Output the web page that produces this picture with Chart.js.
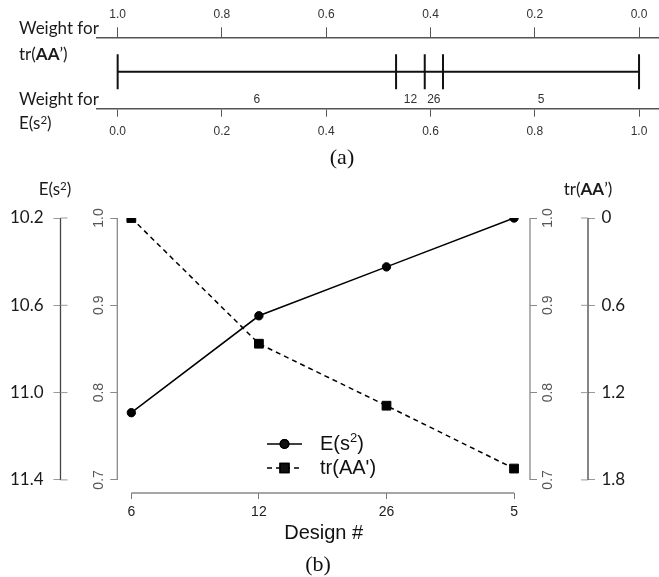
<!DOCTYPE html>
<html>
<head>
<meta charset="utf-8">
<script src="https://cdn.jsdelivr.net/npm/chart.js@4.4.1/dist/chart.umd.min.js"></script>
<style>
  html, body { margin: 0; padding: 0; background: #fff; }
  #wrap { position: relative; width: 659px; height: 577px; overflow: hidden; }
  canvas { position: absolute; left: 0; top: 0; }
  .lbl { position: absolute; white-space: nowrap; font-family: Lato, "Open Sans", sans-serif;
         font-size: 17px; color: #1a1a1a; line-height: 1; }
  .mid { transform: translate(-50%, -50%); }
  .lft { transform: translateY(-50%); }
  .sup { font-size: 0.68em; position: relative; top: -0.45em; }
  .cap { position: absolute; font-family: "Liberation Serif", "Times New Roman", serif;
         font-size: 22px; color: #111; line-height: 1; transform: translate(-50%, -50%); }
</style>
</head>
<body>
<div id="wrap">
  <canvas id="chartA" width="659" height="145"></canvas>
  <canvas id="chartB" width="659" height="577"></canvas>

  <div class="lbl lft" style="left:19px; top:27px;">Weight for</div>
  <div class="lbl lft" style="left:19px; top:53px;">tr(<b>AA</b>’)</div>
  <div class="lbl lft" style="left:19px; top:98px;">Weight for</div>
  <div class="lbl lft" style="left:19px; top:122px;">E(s<span class="sup">2</span>)</div>
  <div class="cap" style="left:342px; top:157px;">(a)</div>

  <div class="lbl mid" style="left:55px; top:188px;">E(s<span class="sup">2</span>)</div>
  <div class="lbl mid" style="left:588px; top:188px;">tr(<b>AA</b>’)</div>
  <div class="cap" style="left:318px; top:564px;">(b)</div>
</div>

<script>
// ---- Panel (a): ranges of the weight on E(s²) over which each design is optimal ----
const weightBreaks = [0, 0.534, 0.589, 0.624, 1.0];
const segmentDesigns = ['6', '12', '26', '5'];
const weightTicksE = [0, 0.2, 0.4, 0.6, 0.8, 1.0];
const weightTicksTr = [1.0, 0.8, 0.6, 0.4, 0.2, 0.0];

// ---- Panel (b): relative efficiencies of the chosen designs ----
const designs = ['6', '12', '26', '5'];
const effES2 = [0.777, 0.888, 0.944, 1.0];
const effTr = [1.0, 0.856, 0.785, 0.713];
const effTicks = [1.0, 0.9, 0.8, 0.7];
const es2Ticks = [10.2, 10.6, 11.0, 11.4];
const trTicks = [0, 0.6, 1.2, 1.8];

const SANS = '"Liberation Sans", Arial, sans-serif';
const HUMAN = 'Lato, "Open Sans", sans-serif';

const fixedTicks = (vals) => (s) => { s.ticks = vals.map(v => ({ value: v })); };

// ---------------- Panel (a) ----------------
const xMinA = -0.0402, xMaxA = 1.0383;
const segY = 0.515;

const segmentLabels = {
  id: 'segmentLabels',
  afterDatasetsDraw(chart) {
    const { ctx, scales: { x, y } } = chart;
    ctx.save();
    ctx.font = '12px ' + SANS;
    ctx.fillStyle = '#333';
    ctx.textAlign = 'center';
    ctx.textBaseline = 'middle';
    const yPix = y.getPixelForValue(segY) + 27.5;
    segmentDesigns.forEach((d, i) => {
      const mid = (weightBreaks[i] + weightBreaks[i + 1]) / 2;
      ctx.fillText(d, x.getPixelForValue(mid), yPix);
    });
    ctx.restore();
  }
};

const axisA = (extra) => Object.assign({
  type: 'linear',
  grid: { drawOnChartArea: false, color: '#555', lineWidth: 1 },
  border: { display: true, color: '#555', width: 1.5 },
  ticks: { font: { family: SANS, size: 12 }, color: '#333', autoSkip: false, maxRotation: 0,
           callback: (v) => Number(v).toFixed(1) }
}, extra);

new Chart(document.getElementById('chartA'), {
  type: 'scatter',
  data: {
    datasets: [
      {
        data: [{ x: weightBreaks[0], y: segY }, { x: weightBreaks[weightBreaks.length - 1], y: segY }],
        showLine: true, borderColor: '#111', borderWidth: 2, pointRadius: 0
      },
      {
        data: weightBreaks.map(w => ({ x: w, y: segY })),
        showLine: false, pointStyle: 'line', rotation: 90, pointRadius: 17.5,
        pointBorderWidth: 2, pointBorderColor: '#111', pointBackgroundColor: '#111'
      }
    ]
  },
  options: {
    responsive: false, animation: false, events: [],
    layout: { autoPadding: false, padding: { left: 96.7, right: 0, top: 0, bottom: 0 } },
    plugins: { legend: { display: false }, tooltip: { enabled: false } },
    scales: {
      x: axisA({
        position: 'bottom', min: xMinA, max: xMaxA,
        afterBuildTicks: fixedTicks(weightTicksE),
        afterFit: (s) => { s.height = 145 - 108.3; },
        grid: { drawOnChartArea: false, color: '#555', tickLength: 8.4 },
        ticks: { font: { family: SANS, size: 12 }, color: '#333', autoSkip: false, maxRotation: 0,
                 padding: 8.2, callback: (v) => Number(v).toFixed(1) }
      }),
      xTop: axisA({
        position: 'top', reverse: true, min: 1 - xMaxA, max: 1 - xMinA,
        afterBuildTicks: fixedTicks(weightTicksTr),
        afterFit: (s) => { s.height = 37.3; },
        grid: { drawOnChartArea: false, color: '#555', tickLength: 10 },
        ticks: { font: { family: SANS, size: 12 }, color: '#333', autoSkip: false, maxRotation: 0,
                 padding: 5, callback: (v) => Number(v).toFixed(1) }
      }),
      y: { type: 'linear', display: false, min: 0, max: 1 }
    }
  },
  plugins: [segmentLabels]
});

// ---------------- Panel (b) ----------------
const yMin = 0.685;

// R-style axis lines that run only between the first and last tick
const axisLines = {
  id: 'axisLines',
  beforeDatasetsDraw(chart) {
    const { ctx, scales } = chart;
    ctx.save();
    const vLine = (s, ticks, color, stub) => {
      const xp = s.position === 'left' ? s.right : s.left;
      const y0 = s.getPixelForValue(ticks[0]);
      const y1 = s.getPixelForValue(ticks[ticks.length - 1]);
      ctx.strokeStyle = color;
      ctx.lineWidth = 1.3;
      ctx.beginPath();
      ctx.moveTo(xp, y0); ctx.lineTo(xp, y1);
      ctx.stroke();
      if (stub) {
        ctx.strokeStyle = '#999';
        ctx.lineWidth = 1;
        const dir = s.position === 'left' ? 1 : -1;
        ticks.forEach(t => {
          const yp = s.getPixelForValue(t);
          ctx.beginPath();
          ctx.moveTo(xp, yp); ctx.lineTo(xp + dir * stub, yp);
          ctx.stroke();
        });
      }
    };
    vLine(scales.y, effTicks, '#888', 0);
    vLine(scales.y2, effTicks, '#888', 0);
    vLine(scales.yE, es2Ticks, '#444', 7);
    vLine(scales.yT, trTicks, '#444', 7);

    const x = scales.x;
    ctx.strokeStyle = '#888';
    ctx.lineWidth = 1.3;
    ctx.beginPath();
    ctx.moveTo(x.getPixelForValue(0), x.top);
    ctx.lineTo(x.getPixelForValue(designs.length - 1), x.top);
    ctx.stroke();
    ctx.restore();
  }
};

// legend: line with marker, then label with superscript where needed
const lineLegend = {
  id: 'lineLegend',
  afterDatasetsDraw(chart) {
    const { ctx } = chart;
    const x0 = 267, x1 = 302, tx = 320;
    const rows = [444, 468];
    ctx.save();
    chart.data.datasets.forEach((ds, i) => {
      const yy = rows[i];
      ctx.strokeStyle = ds.borderColor;
      ctx.lineWidth = ds.borderWidth;
      ctx.setLineDash(ds.borderDash || []);
      ctx.beginPath();
      ctx.moveTo(x0, yy); ctx.lineTo(x1, yy);
      ctx.stroke();
      ctx.setLineDash([]);
      Chart.helpers.drawPoint(ctx, {
        pointStyle: ds.pointStyle, radius: ds.pointRadius, borderWidth: 1, rotation: 0
      }, (x0 + x1) / 2, yy);
      ctx.fillStyle = '#111';
      ctx.fill();
      ctx.stroke();

      ctx.fillStyle = '#111';
      ctx.textBaseline = 'middle';
      ctx.textAlign = 'left';
      let cx = tx;
      ds.legendParts.forEach(p => {
        ctx.font = (p.sup ? '13px ' : '20px ') + SANS;
        ctx.fillText(p.t, cx, yy + (p.sup ? -6 : 0));
        cx += ctx.measureText(p.t).width;
      });
    });
    ctx.restore();
  }
};

const innerAxis = (pos, extra) => Object.assign({
  type: 'linear', position: pos, weight: 0, min: yMin, max: 1,
  afterBuildTicks: fixedTicks(effTicks),
  border: { display: false },
  grid: { drawOnChartArea: false, color: '#888', tickLength: 7 },
  ticks: { font: { family: SANS, size: 14 }, color: '#555', minRotation: 90, maxRotation: 90,
           crossAlign: 'center', padding: 1, autoSkip: false,
           callback: (v) => Number(v).toFixed(1) }
}, extra);

const outerAxis = (pos, extra) => Object.assign({
  type: 'linear', position: pos, weight: 1, reverse: true,
  border: { display: false },
  grid: { drawOnChartArea: false, color: '#999', tickLength: 7 },
  ticks: { font: { family: HUMAN, size: 17 }, color: '#1a1a1a', autoSkip: false, maxRotation: 0 }
}, extra);

new Chart(document.getElementById('chartB'), {
  type: 'line',
  data: {
    datasets: [
      {
        label: 'E(s²)', legendParts: [{ t: 'E(s' }, { t: '2', sup: true }, { t: ')' }],
        data: designs.map((d, i) => ({ x: i, y: effES2[i] })),
        borderColor: '#000', borderWidth: 1.5,
        pointStyle: 'circle', pointRadius: 4.2,
        pointBackgroundColor: '#000', pointBorderColor: '#000', pointBorderWidth: 1,
        yAxisID: 'y', xAxisID: 'x'
      },
      {
        label: "tr(AA')", legendParts: [{ t: "tr(AA')" }],
        data: designs.map((d, i) => ({ x: i, y: effTr[i] })),
        borderColor: '#000', borderWidth: 1.5, borderDash: [5, 4],
        pointStyle: 'rect', pointRadius: 6.2,
        pointBackgroundColor: '#000', pointBorderColor: '#000', pointBorderWidth: 1,
        yAxisID: 'y', xAxisID: 'x'
      }
    ]
  },
  options: {
    responsive: false, animation: false, events: [],
    layout: { autoPadding: false, padding: { top: 218, left: 0, right: 0, bottom: 0 } },
    plugins: { legend: { display: false }, tooltip: { enabled: false } },
    scales: {
      x: {
        type: 'linear', position: 'bottom', min: -0.11, max: 3.125,
        afterBuildTicks: fixedTicks(designs.map((d, i) => i)),
        afterFit: (s) => { s.height = 84; },
        border: { display: false },
        grid: { drawOnChartArea: false, color: '#777', tickLength: 6 },
        ticks: { font: { family: SANS, size: 14 }, color: '#222', padding: 4.6, autoSkip: false,
                 maxRotation: 0, callback: (v) => designs[Math.round(v)] },
        title: { display: true, text: 'Design #', font: { family: SANS, size: 20 }, color: '#111',
                 padding: { top: 0, bottom: 32 } }
      },
      yE: outerAxis('left', {
        min: es2Ticks[0], max: es2Ticks[0] + (1 - yMin) * 4,
        afterBuildTicks: fixedTicks(es2Ticks),
        afterFit: (s) => { s.width = 60.5; },
        ticks: { font: { family: HUMAN, size: 17 }, color: '#1a1a1a', autoSkip: false, maxRotation: 0,
                 padding: 10, callback: (v) => Number(v).toFixed(1) }
      }),
      y: innerAxis('left', { afterFit: (s) => { s.width = 56.8; } }),
      y2: innerAxis('right', { afterFit: (s) => { s.width = 58; } }),
      yT: outerAxis('right', {
        min: trTicks[0], max: (1 - yMin) * 6,
        afterBuildTicks: fixedTicks(trTicks),
        afterFit: (s) => { s.width = 71; },
        ticks: { font: { family: HUMAN, size: 17 }, color: '#1a1a1a', autoSkip: false, maxRotation: 0,
                 padding: 6.5, callback: (v) => String(Number(v)) }
      })
    }
  },
  plugins: [axisLines, lineLegend]
});
</script>
</body>
</html>
